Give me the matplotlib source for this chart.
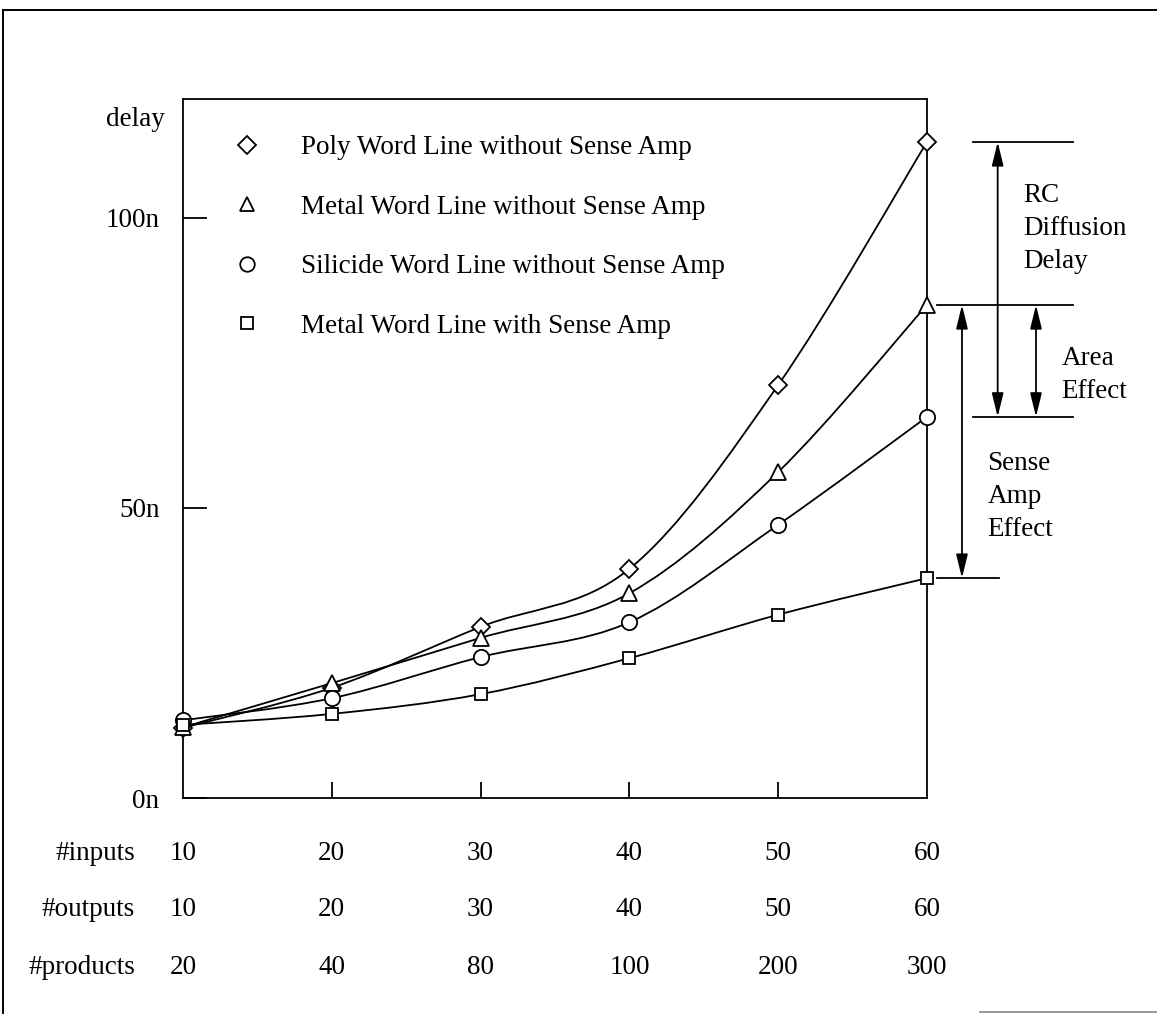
import matplotlib as mpl
import matplotlib.pyplot as plt
import matplotlib.transforms as mtransforms
from matplotlib.lines import Line2D
from matplotlib.path import Path
from matplotlib.patches import PathPatch

mpl.use("Agg")
plt.rcParams["font.family"] = ["Liberation Serif", "DejaVu Serif"]
plt.rcParams["font.size"] = 19.5

# data
n_inputs = [10, 20, 30, 40, 50, 60]
n_outputs = [10, 20, 30, 40, 50, 60]
n_products = [20, 40, 80, 100, 200, 300]

poly = [12.1, 19.0, 29.5, 39.5, 71.2, 113.1]
metal = [12.2, 19.8, 27.6, 35.3, 56.2, 85.0]
silicide = [13.4, 17.2, 24.3, 30.3, 47.1, 65.7]
metal_sa = [12.6, 14.5, 17.9, 24.1, 31.6, 37.9]

series = [
    (poly, "D", 9.5, "Poly Word Line without Sense Amp"),
    (metal, "^", 11, "Metal Word Line without Sense Amp"),
    (silicide, "o", 11, "Silicide Word Line without Sense Amp"),
    (metal_sa, "s", 9, "Metal Word Line with Sense Amp"),
]

yticks = [0, 50, 100]
ytick_labels = ["0n", "50n", "100n"]


def smooth_path(xs, ys):
    # Catmull-Rom through the points, handed to matplotlib as cubic Bezier segments
    pts = list(zip(xs, ys))
    ext = [pts[0]] + pts + [pts[-1]]
    verts = [pts[0]]
    codes = [Path.MOVETO]
    for i in range(1, len(ext) - 2):
        p0, p1, p2, p3 = ext[i - 1], ext[i], ext[i + 1], ext[i + 2]
        c1 = (p1[0] + (p2[0] - p0[0]) / 6, p1[1] + (p2[1] - p0[1]) / 6)
        c2 = (p2[0] - (p3[0] - p1[0]) / 6, p2[1] - (p3[1] - p1[1]) / 6)
        verts += [c1, c2, p2]
        codes += [Path.CURVE4] * 3
    return Path(verts, codes)


fig = plt.figure(figsize=(11.57, 10.14), dpi=100)
ax = fig.add_axes([183 / 1157, 216 / 1014, 744 / 1157, 699 / 1014])

for vals, mk, ms, label in series:
    ax.add_patch(PathPatch(smooth_path(n_inputs, vals), fill=False, lw=1.3, ec="black", zorder=2))
    ax.plot(n_inputs, vals, ls="none", marker=mk, ms=ms, mfc="white", mec="black",
            mew=1.3, clip_on=False, zorder=3)

ax.set_xlim(10, 60)
ax.set_ylim(0, 120.5)
ax.set_xticks([20, 30, 40, 50])
ax.set_xticklabels([])
ax.set_yticks(yticks)
ax.set_yticklabels(ytick_labels)
ax.tick_params(axis="x", direction="in", length=11.5, width=1.3)
ax.tick_params(axis="y", direction="in", length=17, width=1.3, pad=17)
for sp in ax.spines.values():
    sp.set_linewidth(1.3)

trans = mtransforms.blended_transform_factory(ax.transAxes, ax.transData)
ax.text(-0.024, 117.0, "delay", ha="right", va="center", transform=trans)

# legend (markers only)
handles = [Line2D([], [], ls="none", marker=mk, ms=ms * 0.95, mfc="white", mec="black", mew=1.3)
           for _, mk, ms, _ in series]
ax.legend(handles, [s[3] for s in series], loc="upper left", bbox_to_anchor=(0.068, 0.948),
          frameon=False, handlelength=1.0, handletextpad=1.5, labelspacing=1.27,
          borderpad=0, borderaxespad=0)

# bracket annotations on the right
top, mid, low, bot = poly[-1], metal[-1], silicide[-1], metal_sa[-1]
for y, x0, x1 in [(top, 1.062, 1.196), (mid, 1.013, 1.196), (low, 1.062, 1.196), (bot, 1.013, 1.097)]:
    ax.plot([x0, x1], [y, y], color="black", lw=1.3, transform=trans, clip_on=False)

arrow = dict(arrowstyle="<|-|>,head_length=0.9,head_width=0.22", color="black", lw=1.3,
             shrinkA=0, shrinkB=0, mutation_scale=16)
for x, y0, y1 in [(1.095, top, low), (1.1465, mid, low), (1.047, mid, bot)]:
    ax.annotate("", xy=(x, y0), xytext=(x, y1), xycoords=trans, textcoords=trans,
                arrowprops=arrow, annotation_clip=False)

ax.text(1.129, 98.2, "RC\nDiffusion\nDelay", transform=trans, ha="left", va="center", linespacing=1.42)
ax.text(1.181, 73.0, "Area\nEffect", transform=trans, ha="left", va="center", linespacing=1.42)
ax.text(1.081, 51.9, "Sense\nAmp\nEffect", transform=trans, ha="left", va="center", linespacing=1.42)

# table under the x axis
xtr = mtransforms.blended_transform_factory(ax.transData, ax.transAxes)
for name, row, yf in [("#inputs", n_inputs, -0.080), ("#outputs", n_outputs, -0.160),
                      ("#products", n_products, -0.243)]:
    ax.text(-0.0645, yf, name, transform=ax.transAxes, ha="right", va="center")
    for xv, v in zip(n_inputs, row):
        ax.text(xv, yf, str(v), transform=xtr, ha="center", va="center")

# scanned page frame
fig.add_artist(Line2D([3 / 1157, 3 / 1157], [0, 1 - 10 / 1014], color="black", lw=1.4, transform=fig.transFigure))
fig.add_artist(Line2D([3 / 1157, 1], [1 - 10 / 1014, 1 - 10 / 1014], color="black", lw=1.4, transform=fig.transFigure))
fig.add_artist(Line2D([980 / 1157, 1], [2 / 1014, 2 / 1014], color="0.6", lw=1.4, transform=fig.transFigure))

fig.savefig("out.png", dpi=100)
